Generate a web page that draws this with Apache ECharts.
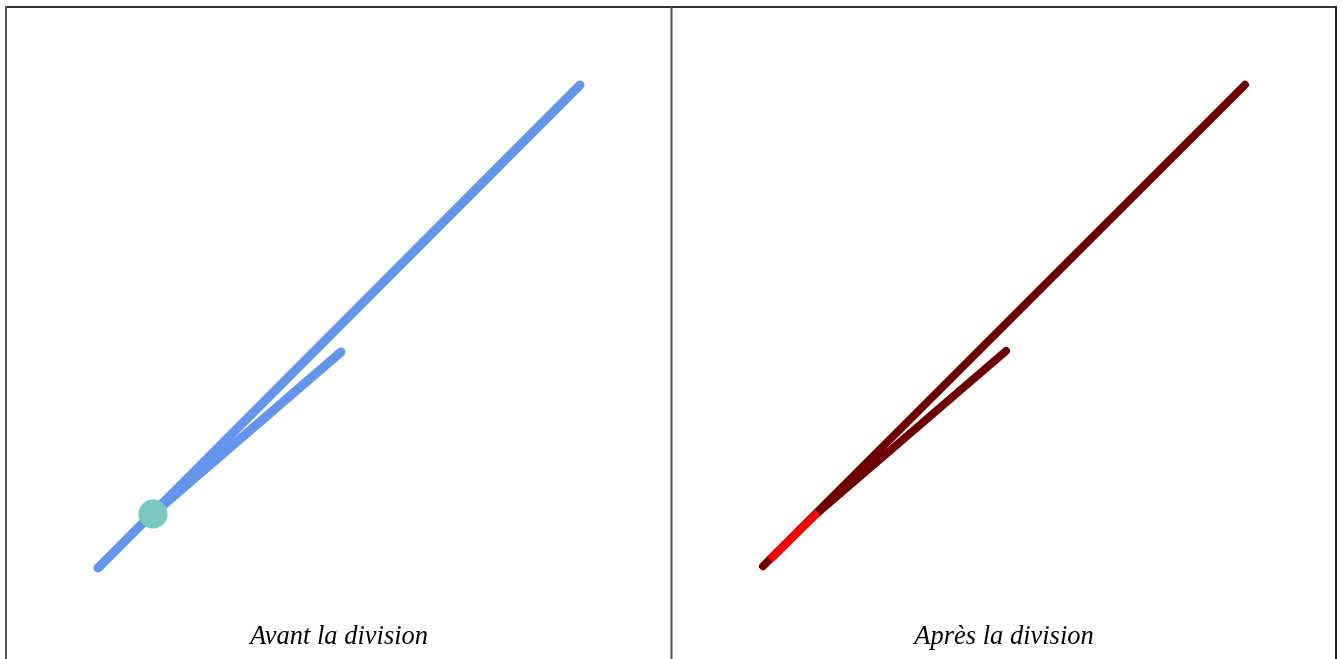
<!DOCTYPE html>
<html>
<head>
<meta charset="utf-8">
<title>Division de ligne</title>
<script src="https://cdn.jsdelivr.net/npm/echarts@6/dist/echarts.min.js"></script>
<style>
  html, body { margin: 0; padding: 0; background: #fff; }
  #chart { width: 1342px; height: 659px; }
</style>
</head>
<body>
<div id="chart"></div>
<script>
// ligne principale (debut -> fin) et branche qui part du point de division
var mainLine = [[91, 91], [573, 574]];
var branchLine = [[146, 145], [334, 307]];
var splitPoint = [146, 145];
// apres la division : premier morceau (en rouge)
var firstPart = [[98, 98], [146, 145]];
var panelTitles = ['Avant la division', 'Après la division'];

var myChart = echarts.init(document.getElementById('chart'));

function axisX(i) {
  return { gridIndex: i, type: 'value', min: 0, max: 664, show: false };
}
function axisY(i) {
  return { gridIndex: i, type: 'value', min: 0, max: 659, show: false };
}

var titleStyle = { fontFamily: 'Liberation Serif', fontStyle: 'italic', fontWeight: 'normal', fontSize: 26.5, color: '#000' };

var option = {
  animation: false,
  backgroundColor: '#fff',
  title: [{
    text: panelTitles[0],
    left: 334, top: 619, textAlign: 'center',
    textStyle: titleStyle
  }, {
    text: panelTitles[1],
    left: 999, top: 619, textAlign: 'center',
    textStyle: titleStyle
  }],
  grid: [
    { left: 7, top: 0, width: 664, height: 659 },
    { left: 672, top: -2, width: 664, height: 659 }
  ],
  xAxis: [axisX(0), axisX(1)],
  yAxis: [axisY(0), axisY(1)],
  series: [{
    type: 'line', xAxisIndex: 0, yAxisIndex: 0, data: mainLine, symbol: 'none',
    lineStyle: { color: '#6495ed', width: 9, cap: 'round' }
  }, {
    type: 'line', xAxisIndex: 0, yAxisIndex: 0, data: branchLine, symbol: 'none',
    lineStyle: { color: '#6495ed', width: 9, cap: 'round' }
  }, {
    type: 'scatter', xAxisIndex: 0, yAxisIndex: 0, data: [splitPoint],
    symbol: 'circle', symbolSize: 29, z: 5,
    itemStyle: { color: '#79c8bd', opacity: 1 }
  }, {
    type: 'line', xAxisIndex: 1, yAxisIndex: 1, data: mainLine, symbol: 'none',
    lineStyle: { color: '#6e0000', width: 8, cap: 'round' }
  }, {
    type: 'line', xAxisIndex: 1, yAxisIndex: 1, data: branchLine, symbol: 'none',
    lineStyle: { color: '#6e0000', width: 8, cap: 'round' }
  }, {
    type: 'line', xAxisIndex: 1, yAxisIndex: 1, data: firstPart, symbol: 'none', z: 5,
    lineStyle: { color: '#ff0000', width: 8, cap: 'butt' }
  }],
  graphic: [
    { type: 'line', shape: { x1: 6, y1: 7, x2: 1336, y2: 7 }, style: { stroke: '#333', lineWidth: 2 } },
    { type: 'line', shape: { x1: 6, y1: 6, x2: 6, y2: 659 }, style: { stroke: '#555', lineWidth: 2 } },
    { type: 'line', shape: { x1: 671.5, y1: 7, x2: 671.5, y2: 659 }, style: { stroke: '#555', lineWidth: 2 } },
    { type: 'line', shape: { x1: 1336, y1: 6, x2: 1336, y2: 659 }, style: { stroke: '#222', lineWidth: 2 } }
  ]
};

myChart.setOption(option);
</script>
</body>
</html>
